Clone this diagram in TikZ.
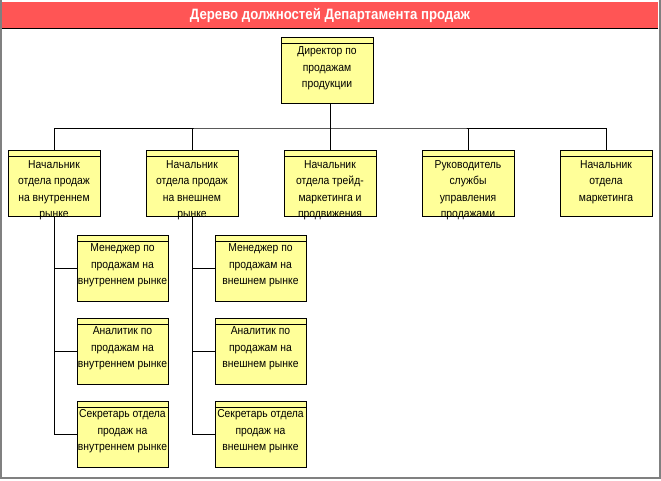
\documentclass[tikz,border=0pt]{standalone}
\usepackage{fontspec}
\setmainfont{Liberation Sans}
\newfontfamily\boxfont[FakeStretch=0.9]{Liberation Sans}
\newfontfamily\titlefont[FakeStretch=0.88]{Liberation Sans}
\usetikzlibrary{positioning}
\definecolor{postyellow}{RGB}{255,255,153}
\definecolor{titlered}{RGB}{255,85,85}
\definecolor{framegray}{RGB}{128,128,128}
\tikzset{
  post/.style={draw=black,line width=0.8pt,fill=postyellow,minimum width=92pt,minimum height=66pt,
    inner sep=0pt,
    path picture={\draw[line width=0.8pt] ([yshift=-6pt]path picture bounding box.north west) -- ([yshift=-6pt]path picture bounding box.north east);}},
  posttext/.style={anchor=north,align=center,inner sep=0pt,font=\boxfont\fontsize{11.5}{16.5}\selectfont},
  link/.style={line width=0.8pt}
}
\begin{document}
\begin{tikzpicture}[x=1pt,y=-1pt]
            \useasboundingbox (0,0) rectangle (661,480);
            \fill[white] (0,0) rectangle (661,480);
            % title
            \fill[titlered] (2,2) rectangle (658,28);
            \draw[line width=1pt] (2,28) -- (658,28);
            \node[text=white,font=\titlefont\bfseries\fontsize{15}{17}\selectfont] (title) at (330,15.5) {Дерево должностей Департамента продаж};
            \draw[framegray,line width=2pt] (1,0) -- (1,478) -- (659.5,478) -- (659.5,0);
            % director
            \node[post] (dir) at (327,70) {};
            \node[posttext] (dirt) at ([yshift=-10pt]dir.north) {Директор по\\продажам\\продукции};
            % heads of departments
            \node[post] (h1) at (54,183.5) {};
            \node[post] (h2) at (192,183.5) {};
            \node[post] (h3) at (330,183.5) {};
            \node[post] (h4) at (468,183.5) {};
            \node[post] (h5) at (606,183.5) {};
            \node[posttext] (h1t) at ([yshift=-10pt]h1.north) {Начальник\\отдела продаж\\на внутреннем\\рынке};
            \node[posttext] (h2t) at ([yshift=-10pt]h2.north) {Начальник\\отдела продаж\\на внешнем\\рынке};
            \node[posttext] (h3t) at ([yshift=-10pt]h3.north) {Начальник\\отдела трейд-\\маркетинга и\\продвижения};
            \node[posttext] (h4t) at ([yshift=-10pt]h4.north) {Руководитель\\службы\\управления\\продажами};
            \node[posttext] (h5t) at ([yshift=-10pt]h5.north) {Начальник\\отдела\\маркетинга};
            % staff, home market
            \node[post,minimum width=91pt] (a1) at (122.5,268) {};
            \node[post,minimum width=91pt] (a2) at (122.5,351) {};
            \node[post,minimum width=91pt] (a3) at (122.5,434) {};
            \node[posttext] (a1t) at ([yshift=-9pt]a1.north) {Менеджер по\\продажам на\\внутреннем рынке};
            \node[posttext] (a2t) at ([yshift=-9pt]a2.north) {Аналитик по\\продажам на\\внутреннем рынке};
            \node[posttext] (a3t) at ([yshift=-9pt]a3.north) {Секретарь отдела\\продаж на\\внутреннем рынке};
            % staff, foreign market
            \node[post,minimum width=91pt] (b1) at (260.5,268) {};
            \node[post,minimum width=91pt] (b2) at (260.5,351) {};
            \node[post,minimum width=91pt] (b3) at (260.5,434) {};
            \node[posttext] (b1t) at ([yshift=-9pt]b1.north) {Менеджер по\\продажам на\\внешнем рынке};
            \node[posttext] (b2t) at ([yshift=-9pt]b2.north) {Аналитик по\\продажам на\\внешнем рынке};
            \node[posttext] (b3t) at ([yshift=-9pt]b3.north) {Секретарь отдела\\продаж на\\внешнем рынке};
            % connectors
            \coordinate (bus) at (330,128);
            \draw[link] ([xshift=3pt]dir.south) -- (bus);
            \draw[link] (h1.north) |- (bus) -| (h5.north);
            \draw[link] (h2.north) -- (h2.north |- bus);
            \draw[link] (h3.north) -- (h3.north |- bus);
            \draw[link] (h4.north) -- (h4.north |- bus);
            \draw[link] (h1.south) |- (a3.west);
            \draw[link] (a1.west) -- (a1.west -| h1.south);
            \draw[link] (a2.west) -- (a2.west -| h1.south);
            \draw[link] (h2.south) |- (b3.west);
            \draw[link] (b1.west) -- (b1.west -| h2.south);
            \draw[link] (b2.west) -- (b2.west -| h2.south);
        \end{tikzpicture}
\end{document}
